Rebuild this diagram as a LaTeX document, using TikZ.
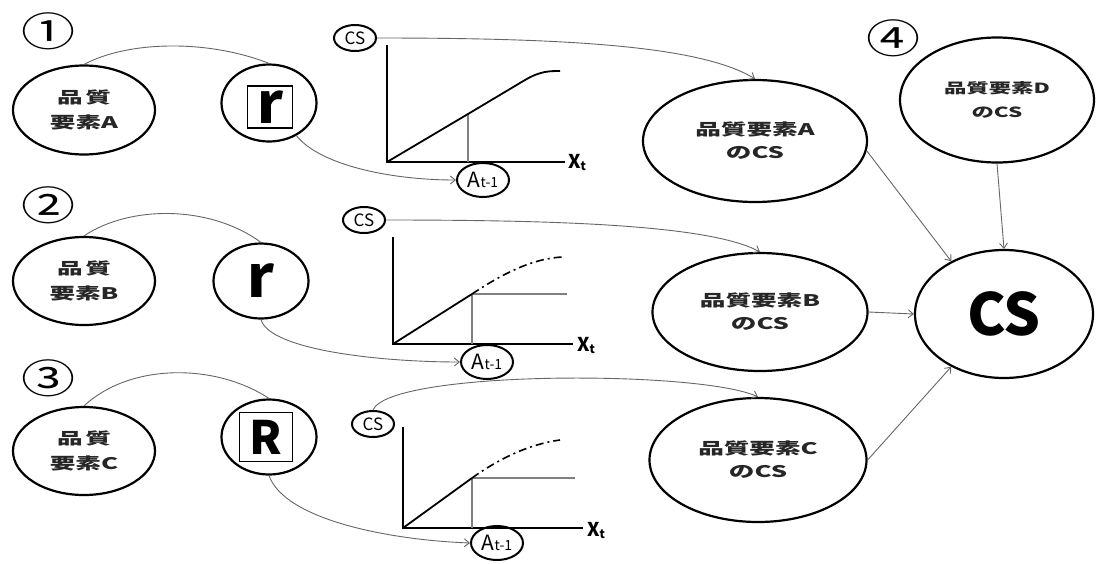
\documentclass[tikz,border=0pt]{standalone}
\usepackage{fontspec}
\newfontfamily\jp[FakeStretch=1.6]{Noto Sans CJK JP}
\newfontfamily\jpn{Noto Sans CJK JP}
\newfontfamily\jpnum[FakeStretch=1.35]{Noto Sans CJK JP}
\usetikzlibrary{shapes.geometric,arrows.meta}
\begin{document}
\begin{tikzpicture}[x=1pt,y=-1pt,
  el/.style={ellipse, draw, line width=2.2pt, inner sep=0pt, align=center},
  small/.style={ellipse, draw, line width=2pt, inner sep=0pt},
  boxr/.style={draw, line width=1.8pt, inner sep=0pt},
  conn/.style={draw=black!60, line width=0.9pt},
  arr/.style={conn, -{Straight Barb[length=5pt,width=8pt]}},
  axisline/.style={line width=2.2pt},
  guide/.style={draw=black!50, line width=2.4pt},
  num/.style={font=\jpnum\fontsize{40}{40}\selectfont},
  lefttxt/.style={font=\jp\bfseries\fontsize{16}{25}\selectfont, text=black!85},
  csatxt/.style={font=\jp\bfseries\fontsize{16}{23}\selectfont, text=black!85},
  cssmall/.style={small, minimum width=42, minimum height=26, font=\jpn\fontsize{17}{17}\selectfont},
  atnode/.style={small, minimum width=52, minimum height=34, font=\jpn\fontsize{21}{21}\selectfont},
  xlab/.style={anchor=west, inner sep=0pt, font=\jpn\bfseries\fontsize{19}{19}\selectfont}]
\useasboundingbox (0,0) rectangle (1097,563);
\fill[white] (0,0) rectangle (1097,563);

% circled numbers
\node[num] (n1) at (48,31) {①};
\node[num] (n2) at (48,205) {②};
\node[num] (n3) at (48,378) {③};
\node[num] (n4) at (893,38) {④};

% quality elements
\node[el, lefttxt, minimum width=142, minimum height=89] (qa) at (84,110) {品\,質\\要素A};
\node[el, lefttxt, minimum width=142, minimum height=88] (qb) at (84,281) {品\,質\\要素B};
\node[el, lefttxt, minimum width=142, minimum height=88] (qc) at (84,451) {品\,質\\要素C};

% r / R circles
\node[el, minimum width=95, minimum height=77] (r1) at (269,103) {};
\node[boxr, minimum width=45, minimum height=42, font=\jpn\bfseries\fontsize{56}{56}\selectfont] (r1t) at (270,107) {r};
\node[el, minimum width=95, minimum height=75, font=\jpn\bfseries\fontsize{58}{58}\selectfont] (r2) at (261,281) {r};
\node[el, minimum width=95, minimum height=75] (r3) at (269,437) {};
\node[boxr, minimum width=53, minimum height=49, font=\jpn\bfseries\fontsize{46}{46}\selectfont] (r3t) at (266,437) {R};

% small CS circles
\node[cssmall] (cs1) at (355,38) {CS};
\node[cssmall] (cs2) at (364,220) {CS};
\node[cssmall] (cs3) at (373,424) {CS};

% A_{t-1} circles
\node[atnode] (at1) at (483,180) {\makebox[0pt]{A\fontsize{14}{14}\selectfont t-1}};
\node[atnode] (at2) at (487,362) {\makebox[0pt]{A\fontsize{14}{14}\selectfont t-1}};
\node[atnode] (at3) at (497,543) {\makebox[0pt]{A\fontsize{14}{14}\selectfont t-1}};

% charts
\coordinate (o1) at (387,162);
\draw[axisline] (387,45) -- (o1) -- (565,162);
\draw[guide] (468,114) -- (468,162);
\draw[line width=1.8pt] (o1) -- (468,114) -- (525,80) .. controls (540,71) and (550,71) .. (560,71);
\node[xlab] (x1) at (568,163) {X\raisebox{-2pt}{\fontsize{12}{12}\selectfont t}};

\coordinate (o2) at (393,344);
\draw[axisline] (393,237) -- (o2) -- (573,344);
\draw[guide] (472,294) -- (472,344);
\draw[guide] (472,294) -- (567,294);
\draw[line width=1.8pt] (o2) -- (472,294);
\draw[line width=1.6pt, dash pattern=on 8pt off 4pt on 2pt off 4pt] (472,294) .. controls (505,272) and (535,258) .. (563,257);
\node[xlab] (x2) at (577,345) {X\raisebox{-2pt}{\fontsize{12}{12}\selectfont t}};

\coordinate (o3) at (403,528);
\draw[axisline] (403,427) -- (o3) -- (583,528);
\draw[guide] (472,478) -- (472,528);
\draw[guide] (472,478) -- (575,478);
\draw[line width=1.8pt] (o3) -- (472,478);
\draw[line width=1.6pt, dash pattern=on 8pt off 4pt on 2pt off 4pt] (472,478) .. controls (500,458) and (530,444) .. (560,440);
\node[xlab] (x3) at (587,530) {X\raisebox{-2pt}{\fontsize{12}{12}\selectfont t}};

% CS of elements
\node[el, csatxt, minimum width=224, minimum height=122] (ecsA) at (755,141) {品質要素A\\のCS};
\node[el, csatxt, minimum width=215, minimum height=118] (ecsB) at (760,312) {品質要素B\\のCS};
\node[el, csatxt, minimum width=217, minimum height=124] (ecsC) at (758,460) {品質要素C\\のCS};
\node[el, font=\jp\bfseries\fontsize{14}{24}\selectfont, text=black!85, minimum width=194, minimum height=125] (ecsD) at (997,100) {品質要素D\\のCS};

% overall CS
\node[el, minimum width=178, minimum height=128, font=\jpn\bfseries\fontsize{58}{58}\selectfont] (cs) at (1004,314) {CS};

% connectors left side
\draw[conn] (qa.north) .. controls (130,40) and (210,40) .. (r1.north);
\draw[conn] (qb.north) .. controls (130,205) and (210,205) .. (r2.north);
\draw[conn] (qc.north) .. controls (130,363) and (215,363) .. (r3.north);
\draw[arr] (r1.-50) .. controls (320,165) and (390,180) .. (at1.west);
\draw[arr] (r2.south) .. controls (270,350) and (380,362) .. (at2.west);
\draw[arr] (r3.south) .. controls (285,520) and (390,540) .. (at3.west);

% CS circles to element CS
\draw[arr] (cs1.east) .. controls (560,38) and (700,45) .. (ecsA.north);
\draw[arr] (cs2.east) .. controls (560,220) and (710,225) .. (ecsB.north);
\draw[arr] (cs3.north) .. controls (390,370) and (700,370) .. (ecsC.north);

% to overall CS
\draw[arr] (ecsA.-5) -- (cs.135);
\draw[arr] (ecsB.east) -- (cs.west);
\draw[arr] (ecsC.east) -- (cs.225);
\draw[arr] (ecsD.south) -- (cs.north);
\end{tikzpicture}
\end{document}
